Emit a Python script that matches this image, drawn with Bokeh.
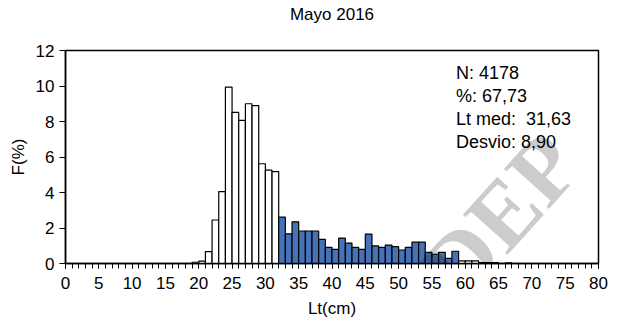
from bokeh.plotting import figure
from bokeh.models import Range1d, Label, FixedTicker, ColumnDataSource, Title
from bokeh.embed import file_html
from bokeh.resources import INLINE
import numpy as np

# Length-frequency distribution, May 2016 (1 cm classes, lower bound of each class)
length_cm = list(range(19, 67))
freq_pct = [
    0.07, 0.13, 0.67, 2.45, 4.05, 9.94, 8.51, 8.06, 9.00, 8.90,  # 19-28
    5.62, 5.26, 5.18, 2.61, 1.67, 2.35, 1.83, 1.83, 1.83, 1.36,  # 29-38
    0.91, 0.80, 1.43, 1.15, 0.91, 0.80, 1.66, 0.99, 0.91, 1.04,  # 39-48
    0.95, 0.76, 0.91, 1.20, 1.20, 0.63, 0.52, 0.63, 0.29, 0.69,  # 49-58
    0.15, 0.15, 0.15, 0.05, 0.05, 0.05, 0.00, 0.03,              # 59-66
]
# classes shaded in blue
shaded_from, shaded_to = 32, 58

title_text = "Mayo 2016"
# summary statistics
stats_lines = ["N: 4178", "%: 67,73", "Lt med:\u00a0 31,63", "Desvio: 8,90"]

x_ticks = list(range(0, 81, 5))
y_ticks = list(range(0, 13, 2))

FONT = "Liberation Sans"
BLUE = "#4673B8"

left = np.array(length_cm, dtype=float)
fill = [BLUE if shaded_from <= L <= shaded_to else "white" for L in length_cm]
src = ColumnDataSource(dict(left=left, right=left + 1, top=freq_pct,
                            bottom=[0] * len(freq_pct), fill=fill))

p = figure(width=617, height=322, output_backend="svg", toolbar_location=None,
           x_range=Range1d(0, 80), y_range=Range1d(0, 12),
           min_border_left=65, min_border_right=19, min_border_top=50,
           min_border_bottom=59, title=title_text)

p.title.align = "center"
p.title.vertical_align = "bottom"
p.title.standoff = 0
p.title.text_font = FONT
p.title.text_font_size = "17px"
p.title.text_font_style = "normal"
p.title.text_color = "black"

# blank spacer between the title and the plot frame
p.add_layout(Title(text=" ", text_font_size="10px", standoff=14), "above")

p.quad(left="left", right="right", top="top", bottom="bottom", source=src,
       fill_color="fill", line_color="black", line_width=1.2)

p.xgrid.visible = False
p.ygrid.visible = False
p.outline_line_color = "black"
p.outline_line_width = 1.5
p.outline_line_alpha = 1.0

xa = p.xaxis[0]
xa.ticker = FixedTicker(ticks=x_ticks, minor_ticks=list(range(0, 81)))
xa.major_tick_out = 5
xa.major_tick_in = 0
xa.minor_tick_out = 5
xa.minor_tick_in = 0
xa.major_tick_line_color = "black"
xa.minor_tick_line_color = "black"
xa.axis_line_width = 1.5
xa.major_label_standoff = 8
xa.axis_label = "Lt(cm)"
xa.axis_label_standoff = 7

ya = p.yaxis[0]
ya.ticker = FixedTicker(ticks=y_ticks)
ya.major_tick_out = 6
ya.major_tick_in = 0
ya.minor_tick_line_color = None
ya.axis_line_width = 1.5
ya.major_label_standoff = 5
ya.axis_label = "F(%)"
ya.axis_label_standoff = 5

for ax in (xa, ya):
    ax.major_label_text_font = FONT
    ax.major_label_text_font_size = "17px"
    ax.major_label_text_color = "black"
    ax.axis_label_text_font = FONT
    ax.axis_label_text_font_size = "17px"
    ax.axis_label_text_font_style = "normal"
    ax.axis_label_text_color = "black"
    ax.axis_line_color = "black"

for i, line in enumerate(stats_lines):
    p.add_layout(Label(x=58.6, y=10.75 - i * 1.31, text=line,
                       text_font=FONT, text_font_size="18px",
                       text_color="black", text_baseline="alphabetic"))

# translucent "DEP" watermark across the lower right
wm = Label(x=65.3, y=2.65, text="DEP", angle=48, angle_units="deg",
           text_font="Liberation Serif", text_font_style="bold",
           text_font_size="92px", text_color="black", text_alpha=0.2,
           text_align="center", text_baseline="middle")
p.add_layout(wm)

open("out.html", "w").write(file_html(p, INLINE))
